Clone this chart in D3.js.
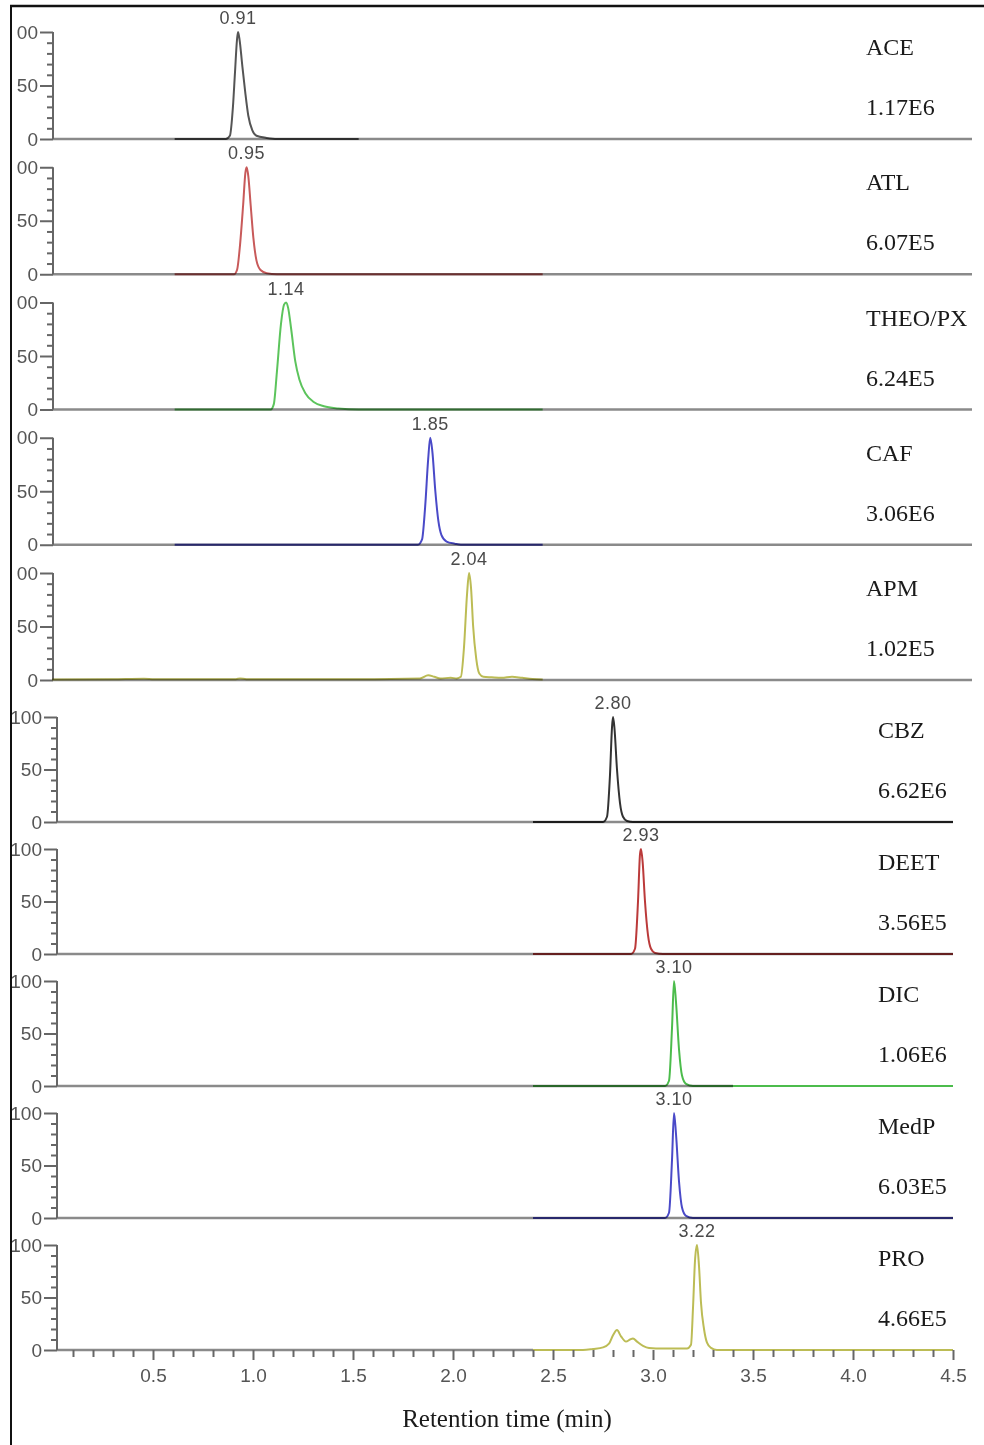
<!DOCTYPE html>
<html lang="en">
<head>
    <meta charset="UTF-8">
    <title>Chromatograms</title>
    <style>
        body { margin: 0; background: #fff; }
        .tick text { font-family: "Liberation Sans", Arial, sans-serif; fill: #555; }
        .tick line { stroke: #666; stroke-width: 2; }
        .name, .amp, .axis-title { font-family: "Liberation Serif", "Times New Roman", serif; fill: #1a1a1a; }
        .peak-label { font-family: "Liberation Sans", Arial, sans-serif; fill: #4a4a4a; letter-spacing: 0.5px; }
        .trace { fill: none; stroke-width: 2; mix-blend-mode: multiply; }
    </style>
</head>
<body>

<svg width="984" height="1445"></svg>

<script src="https://d3js.org/d3.v7.min.js"></script>
<script>

    // Compounds, top to bottom
    const compounds = ['ACE', 'ATL', 'THEO/PX', 'CAF', 'APM', 'CBZ', 'DEET', 'DIC', 'MedP', 'PRO'];
    const intensities = ['1.17E6', '6.07E5', '6.24E5', '3.06E6', '1.02E5', '6.62E6', '3.56E5', '1.06E6', '6.03E5', '4.66E5'];
    const peakLabels = ['0.91', '0.95', '1.14', '1.85', '2.04', '2.80', '2.93', '3.10', '3.10', '3.22'];

    const xTickValues = [0.5, 1.0, 1.5, 2.0, 2.5, 3.0, 3.5, 4.0, 4.5];
    const yTickValues = [0, 50, 100];

    // Traces: [retention time (min), relative abundance (%)]
    const aceTrace = [[0.60, 0], [0.85, 0], [0.87, 3], [0.885, 30], [0.895, 62], [0.905, 93], [0.91, 100],
        [0.918, 92], [0.93, 70], [0.945, 44], [0.96, 22], [0.98, 8], [1.00, 3], [1.05, 1], [1.10, 0], [1.50, 0]];
    const atlTrace = [[0.60, 0], [0.89, 0], [0.905, 4], [0.92, 28], [0.935, 65], [0.946, 95], [0.952, 100],
        [0.96, 92], [0.972, 64], [0.985, 34], [1.00, 13], [1.02, 4], [1.05, 1], [1.10, 0], [2.40, 0]];
    const theoTrace = [[0.60, 0], [1.07, 0], [1.085, 5], [1.10, 35], [1.12, 80], [1.135, 98], [1.145, 100],
        [1.155, 95], [1.17, 75], [1.19, 45], [1.21, 28], [1.24, 15], [1.28, 7], [1.33, 3], [1.40, 1],
        [1.50, 0], [2.40, 0]];
    const cafTrace = [[0.60, 0], [1.79, 0], [1.81, 5], [1.825, 35], [1.84, 80], [1.85, 100], [1.86, 88],
        [1.875, 50], [1.89, 22], [1.905, 9], [1.93, 3], [1.97, 1], [2.00, 0], [2.40, 0]];
    const apmTrace = [[0.00, 0.5], [0.30, 0.8], [0.45, 1.2], [0.50, 0.6], [0.90, 0.8], [0.92, 1.5], [0.95, 0.7],
        [1.50, 0.8], [1.80, 1.5], [1.84, 4.5], [1.87, 3], [1.90, 1.5], [1.95, 2], [1.98, 1.5], [2.00, 3],
        [2.015, 30], [2.03, 80], [2.04, 100], [2.05, 85], [2.06, 50], [2.075, 20], [2.09, 6], [2.11, 3],
        [2.15, 2.5], [2.20, 2], [2.25, 3], [2.30, 2], [2.35, 1], [2.40, 0.5]];
    const cbzTrace = [[2.40, 0], [2.75, 0], [2.77, 5], [2.785, 45], [2.795, 90], [2.80, 100], [2.807, 90],
        [2.82, 50], [2.835, 18], [2.85, 5], [2.87, 1], [2.90, 0], [4.50, 0]];
    const deetTrace = [[2.40, 0], [2.89, 0], [2.91, 5], [2.925, 50], [2.935, 95], [2.94, 100], [2.948, 88],
        [2.96, 50], [2.975, 18], [2.99, 5], [3.01, 1], [3.05, 0], [4.50, 0]];
    const dicTrace = [[2.40, 0], [3.06, 0], [3.08, 5], [3.095, 55], [3.105, 100], [3.115, 80], [3.13, 35],
        [3.145, 10], [3.165, 2], [3.20, 0], [4.50, 0]];
    const medpTrace = [[2.40, 0], [3.06, 0], [3.08, 5], [3.095, 55], [3.105, 100], [3.115, 80], [3.13, 35],
        [3.145, 10], [3.165, 2], [3.20, 0], [4.50, 0]];
    const proTrace = [[2.40, 0], [2.65, 0], [2.70, 1], [2.75, 2.5], [2.78, 6], [2.80, 14], [2.82, 19],
        [2.84, 13], [2.865, 8], [2.885, 10], [2.90, 11], [2.92, 8], [2.95, 4], [2.98, 2], [3.05, 1.5],
        [3.17, 1.5], [3.19, 5], [3.20, 40], [3.21, 85], [3.22, 100], [3.23, 80], [3.24, 45], [3.255, 20],
        [3.27, 7], [3.29, 2], [3.32, 0], [4.50, 0]];

    const traces = [aceTrace, atlTrace, theoTrace, cafTrace, apmTrace, cbzTrace, deetTrace, dicTrace, medpTrace, proTrace];

    // Styles
    const colors = ['#555555', '#c85a5a', '#5cc45c', '#4a4ac8', '#bcbc55', '#333333', '#bb3a3a', '#4cbc4c', '#4a4ac8', '#bcbc55'];
    // where the grey zero line stops under each trace
    const baseEnd = [4.5, 4.5, 4.5, 4.5, 4.5, 4.5, 4.5, 3.4, 4.5, 2.4];

    // The figure is two stacked blocks of five panels
    const blocks = [
        { first: 0, count: 5, base: 139, step: 135.25, h: 107, x0: 52, x1: 972, axisX: 53, labelX: 866, clipX: 16.5 },
        { first: 5, count: 5, base: 822, step: 132, h: 105, x0: 53, x1: 953, axisX: 57, labelX: 878, clipX: 12 }
    ];

    const svg = d3.select('svg');

    const line = d3.line().curve(d3.curveMonotoneX);

    blocks.forEach(function (b, bi) {

        svg.append('clipPath').attr('id', 'frame' + bi)
            .append('rect').attr('x', b.clipX).attr('y', 7).attr('width', 984 - b.clipX).attr('height', 1438);

        const content = svg.append('g').attr('clip-path', 'url(#frame' + bi + ')');

        const xScale = d3.scaleLinear().domain([0, 4.5]).range([b.x0, b.x1]);

        for (let k = 0; k < b.count; k++) {
            const i = b.first + k;
            const base = b.base + k * b.step;
            const yScale = d3.scaleLinear().domain([0, 100]).range([base, base - b.h]);

            const g = content.append('g');

            // grey zero line
            g.append('line')
                .attr('x1', b.axisX).attr('x2', xScale(baseEnd[i]))
                .attr('y1', base).attr('y2', base)
                .attr('stroke', '#8a8a8a').attr('stroke-width', 2.5);

            // y axis: major and minor ticks
            const yAxisG = g.append('g').attr('transform', 'translate(' + b.axisX + ',0)');
            yAxisG.append('line')
                .attr('x1', 0).attr('x2', 0)
                .attr('y1', yScale(0)).attr('y2', yScale(100))
                .attr('stroke', '#666').attr('stroke-width', 2);
            yAxisG.append('g')
                .call(d3.axisLeft(yScale).tickValues(d3.range(10, 100, 10).filter(v => v !== 50))
                    .tickSize(6).tickFormat(''))
                .call(a => a.select('.domain').remove());
            yAxisG.append('g')
                .call(d3.axisLeft(yScale).tickValues(yTickValues).tickSize(13).tickPadding(2))
                .call(a => a.select('.domain').remove())
                .selectAll('text').style('font-size', '19px');

            // trace
            g.append('path')
                .attr('class', 'trace')
                .attr('stroke', colors[i])
                .attr('d', line(traces[i].map(p => [xScale(p[0]), yScale(p[1])])));

            // apex label
            const apex = traces[i].reduce((m, p) => p[1] > m[1] ? p : m);
            g.append('text')
                .attr('class', 'peak-label')
                .attr('x', xScale(apex[0]))
                .attr('y', yScale(apex[1]) - 8)
                .attr('text-anchor', 'middle')
                .style('font-size', '18px')
                .text(peakLabels[i]);

            // compound name and intensity
            g.append('text')
                .attr('class', 'name')
                .attr('x', b.labelX).attr('y', base - 92)
                .attr('dominant-baseline', 'central')
                .style('font-size', '24px')
                .text(compounds[i]);
            g.append('text')
                .attr('class', 'amp')
                .attr('x', b.labelX).attr('y', base - 32)
                .attr('dominant-baseline', 'central')
                .style('font-size', '24px')
                .text(intensities[i]);

            // x axis under the last panel only
            if (i === compounds.length - 1) {
                const xAxisG = g.append('g').attr('transform', 'translate(0,' + base + ')');
                xAxisG.append('g')
                    .call(d3.axisBottom(xScale)
                        .tickValues(d3.range(1, 45).map(v => v / 10).filter(v => Math.round(v * 10) % 5 !== 0))
                        .tickSize(7).tickFormat(''))
                    .call(a => a.select('.domain').remove());
                xAxisG.append('g')
                    .call(d3.axisBottom(xScale).tickValues(xTickValues).tickSize(10).tickPadding(9)
                        .tickFormat(d3.format('.1f')))
                    .call(a => a.select('.domain').remove())
                    .selectAll('text').style('font-size', '19px');

                xAxisG.append('text')
                    .attr('class', 'axis-title')
                    .attr('x', 507).attr('y', 68)
                    .attr('dominant-baseline', 'central')
                    .attr('text-anchor', 'middle')
                    .style('font-size', '25px')
                    .text('Retention time (min)');
            }
        }
    });

    // frame: left and top edges only
    svg.append('line').attr('x1', 11).attr('x2', 11).attr('y1', 5).attr('y2', 1445)
        .attr('stroke', '#111').attr('stroke-width', 2);
    svg.append('line').attr('x1', 10).attr('x2', 984).attr('y1', 6).attr('y2', 6)
        .attr('stroke', '#111').attr('stroke-width', 2.5);

</script>
</body>
</html>
